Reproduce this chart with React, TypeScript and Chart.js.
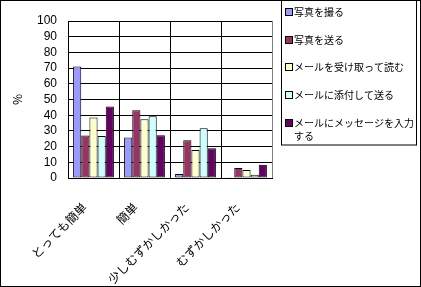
import React, { useEffect, useRef } from "react";
import { Chart, registerables } from "chart.js";

Chart.register(...registerables);

const categories = ["とっても簡単", "簡単", "少しむずかしかった", "むずかしかった"];
const seriesNames = ["写真を撮る", "写真を送る", "メールを受け取って読む", "メールに添付して送る", "メールにメッセージを入力する"];
const legendLines = [["写真を撮る"], ["写真を送る"], ["メールを受け取って読む"], ["メールに添付して送る"], ["メールにメッセージを入力", "する"]];
const takePhoto = [71, 25.8, 2.5, 0.5];
const sendPhoto = [27.1, 43.1, 24.1, 6.3];
const readMail = [38.6, 37.4, 17.8, 5.1];
const attachMail = [26.7, 39.3, 31.7, 2.0];
const typeMessage = [45.6, 27.2, 19.0, 8.4];
const seriesValues = [takePhoto, sendPhoto, readMail, attachMail, typeMessage];
const colors = ["#9999FF", "#993366", "#FFFFCC", "#CCFFFF", "#660066"];
const yTicks = [0, 10, 20, 30, 40, 50, 60, 70, 80, 90, 100];

const FONT = "'Noto Sans CJK JP', 'Liberation Sans', sans-serif";

const framePlugin = {
  id: "frame",
  afterDraw(chart: any) {
    const ctx = chart.ctx;
    const W = chart.width;
    const H = chart.height;
    const a = chart.chartArea;
    ctx.save();
    ctx.strokeStyle = "#808080";
    ctx.lineWidth = 1;
    ctx.beginPath();
    ctx.moveTo(Math.round(a.right) + 0.5, a.top);
    ctx.lineTo(Math.round(a.right) + 0.5, a.bottom);
    ctx.stroke();
    ctx.strokeStyle = "#000";
    ctx.strokeRect(281.5, -0.5, 135, 145.5);
    const ys = [12, 40, 67, 95, 123];
    ctx.font = "10px " + FONT;
    ctx.textBaseline = "middle";
    ctx.textAlign = "left";
    legendLines.forEach((lines, i) => {
      const y = ys[i];
      ctx.fillStyle = colors[i];
      ctx.fillRect(286, y - 3, 6, 6);
      ctx.strokeStyle = "#000";
      ctx.strokeRect(285.5, y - 3.5, 7, 7);
      ctx.fillStyle = "#000";
      lines.forEach((t, j) => {
        ctx.fillText(t, 294, y + j * 13);
      });
    });
    ctx.strokeRect(0.5, 0.5, W - 1, H - 1);
    ctx.restore();
  },
};

export default function App() {
  const ref = useRef<HTMLCanvasElement | null>(null);
  useEffect(() => {
    document.body.style.margin = "0";
    const chart = new Chart(ref.current!, {
      type: "bar",
      data: {
        labels: categories,
        datasets: seriesValues.map((vals, i) => ({
          label: seriesNames[i],
          data: vals,
          backgroundColor: colors[i],
          borderColor: "#000",
          borderWidth: 1,
          borderSkipped: false,
          categoryPercentage: 0.8,
          barPercentage: 1,
        })),
      },
      options: {
        animation: false,
        responsive: false,
        devicePixelRatio: 1,
        layout: { padding: { left: 0, right: 149, top: 21, bottom: 0 } },
        plugins: { legend: { display: false }, tooltip: { enabled: false } },
        scales: {
          x: {
            grid: { color: "#000", offset: true, drawTicks: false },
            border: { color: "#000" },
            ticks: {
              color: "#000",
              font: { family: FONT, size: 12 },
              maxRotation: 45,
              minRotation: 45,
              padding: 22,
              labelOffset: -9,
            },
            afterFit(scale: any) {
              scale.height = 109;
            },
          },
          y: {
            min: 0,
            max: 100,
            afterBuildTicks(scale: any) {
              scale.ticks = yTicks.map((v) => ({ value: v }));
            },
            grid: { color: "#000", drawTicks: false },
            border: { color: "#000" },
            ticks: {
              color: "#000",
              autoSkip: false,
              font: { family: "'Liberation Sans', sans-serif", size: 12 },
              padding: 11,
            },
            title: {
              display: true,
              text: "%",
              color: "#000",
              font: { family: FONT, size: 12 },
              padding: { top: 10, bottom: 0 },
            },
            afterFit(scale: any) {
              scale.width = 68;
            },
          },
        },
      },
      plugins: [framePlugin],
    });
    return () => chart.destroy();
  }, []);
  return <canvas ref={ref} width={421} height={287} style={{ display: "block" }} />;
}
